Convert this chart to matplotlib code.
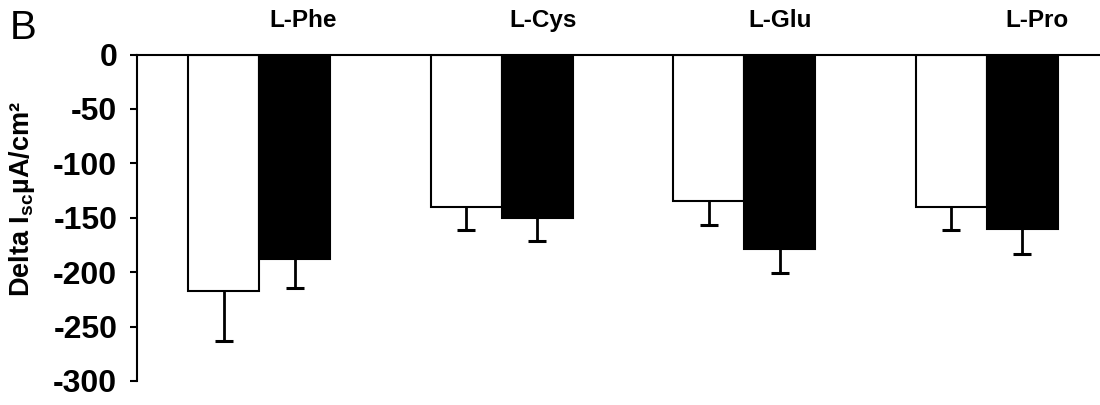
import matplotlib
matplotlib.use("Agg")
import matplotlib.pyplot as plt
import matplotlib.transforms as mtransforms
import numpy as np

plt.rcParams['font.family'] = ['Liberation Sans', 'DejaVu Sans']
plt.rcParams['axes.unicode_minus'] = False
plt.rcParams['mathtext.fontset'] = 'custom'
plt.rcParams['mathtext.bf'] = 'Liberation Sans:bold'

# amino acids tested, change in short-circuit current (uA/cm2), mean and SEM
amino_acids = ["L-Phe", "L-Cys", "L-Glu", "L-Pro"]
open_vals = [-217.5, -140, -134.5, -140]
open_err = [45.5, 21.5, 22, 21.5]
filled_vals = [-188, -150, -178.5, -160.5]
filled_err = [26.5, 21, 22, 23]
label_shift = [0.18, 0.17, 0.15, 0.21]

fig = plt.figure(figsize=(11, 4.05), dpi=100)
ax = fig.add_axes([0.1243, 0.0593, 0.8757, 0.8061])

x = np.arange(len(amino_acids))
w = 0.293

ax.bar(x - w / 2, open_vals, w, color="white", edgecolor="black", linewidth=1.5,
       zorder=2)
ax.bar(x + w / 2, filled_vals, w, color="black", edgecolor="black", linewidth=1.5,
       zorder=2)

# one-sided error bars, pointing away from zero
for xs, vals, errs in [(x - w / 2, open_vals, open_err),
                       (x + w / 2, filled_vals, filled_err)]:
    lows = np.array(vals) - np.array(errs)
    ax.vlines(xs, vals, lows, color="black", linewidth=2, zorder=1)
    ax.plot(xs, lows, ls="none", marker="_", markersize=13, mew=2.2,
            color="black", zorder=1)

ax.set_xlim(-0.506, 3.468)
ax.set_ylim(-300, 0)
ax.set_yticks(np.arange(-300, 1, 50))
ax.tick_params(axis="y", direction="out", length=5, width=1.5, pad=9,
               labelsize=23)
for t in ax.get_yticklabels():
    t.set_fontweight("bold")
ax.set_xticks([])

ax.spines["right"].set_visible(False)
ax.spines["bottom"].set_visible(False)
ax.spines["top"].set_linewidth(1.5)
ax.spines["left"].set_linewidth(1.5)

trans = mtransforms.blended_transform_factory(ax.transData, ax.transAxes)
for i, name in enumerate(amino_acids):
    ax.text(i + label_shift[i], 1.105, name, transform=trans, ha="center",
            va="center", fontsize=17.5, fontweight="bold")

fig.text(0.02, 0.508, r"Delta I$_\mathbf{sc}$µA/cm²", rotation=90,
         ha="center", va="center", fontsize=19.5, fontweight="bold")
fig.text(0.009, 0.93, "B", fontsize=29, ha="left", va="center")

fig.savefig("out.png", dpi=100)
